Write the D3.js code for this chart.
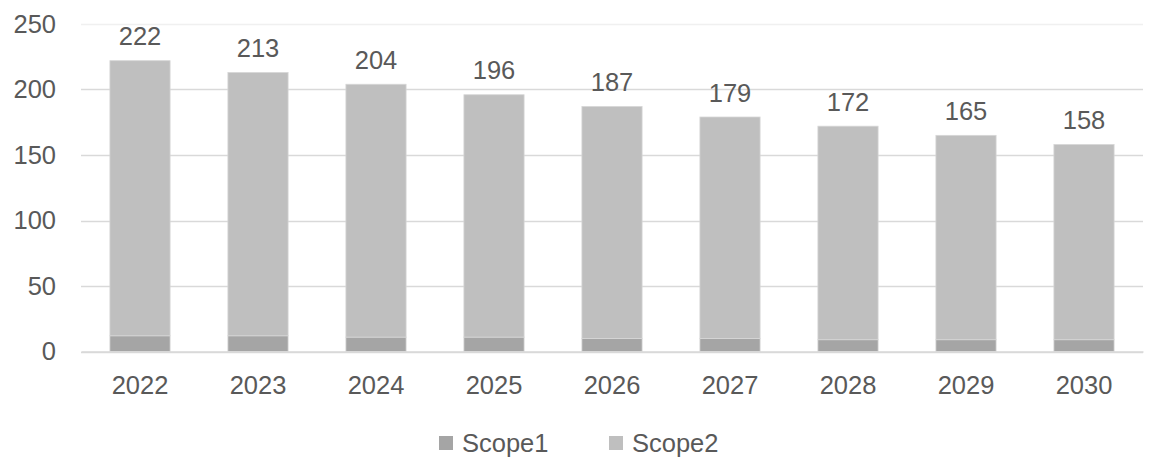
<!DOCTYPE html>
<html><head><meta charset="utf-8">
<script src="https://cdn.jsdelivr.net/npm/d3@7"></script>
<style>body{margin:0;background:#fff}svg{display:block;font-family:"Liberation Sans",Arial,sans-serif}</style>
</head><body><svg id="c" width="1153" height="459"></svg>
<script>
const years = ["2022","2023","2024","2025","2026","2027","2028","2029","2030"];
const scope1 = [12,12,11,11,10,10,9,9,9];
const totals = [222,213,204,196,187,179,172,165,158];
const scope2 = totals.map((t,i)=>t-scope1[i]);
const yTicks = [0,50,100,150,200,250];
const seriesNames = ["Scope1","Scope2"];
const colors = ["#a5a5a5","#bfbfbf"];

const svg = d3.select("#c");
const x = d3.scaleBand().domain(years).range([81,1143]).paddingInner(0.49).paddingOuter(0.245);
const y = d3.scaleLinear().domain([0,250]).range([351.5,24]);
const txt = "#595959";
const fs = 25.5;

// gridlines
svg.append("g").selectAll("line").data(yTicks).join("line")
  .attr("x1",81).attr("x2",1143)
  .attr("y1",d=>Math.round(y(d))+0.5).attr("y2",d=>Math.round(y(d))+0.5)
  .attr("stroke",d=>d===250?"#f0f0f0":"#d9d9d9").attr("stroke-width",1.3);

// y axis labels
const yAxis = d3.axisLeft(y).tickValues(yTicks).tickSize(0).tickPadding(0);
const ga = svg.append("g").attr("transform","translate(56,0)").call(yAxis);
ga.select(".domain").remove();
ga.selectAll("text").attr("fill",txt).attr("font-size",fs).attr("font-family","Liberation Sans, Arial, sans-serif");

// stacked bars
const stackData = years.map((yr,i)=>({year:yr,Scope1:scope1[i],Scope2:scope2[i]}));
const stack = d3.stack().keys(seriesNames)(stackData);
svg.append("g").selectAll("g").data(stack).join("g")
  .attr("fill",(d,i)=>colors[i])
  .selectAll("rect").data(d=>d).join("rect")
  .attr("x",d=>x(d.data.year)).attr("width",x.bandwidth())
  .attr("y",d=>y(d[1])).attr("height",d=>y(d[0])-y(d[1]))
  .attr("stroke","#d6d6d6").attr("stroke-width",0.8);

// x axis
const xAxis = d3.axisBottom(x).tickSize(0).tickPadding(0);
const gx = svg.append("g").attr("transform","translate(0,351.5)").call(xAxis);
gx.select(".domain").attr("stroke","#d9d9d9").attr("stroke-width",1.3);
gx.selectAll("text").attr("fill",txt).attr("font-size",fs).attr("dy",null).attr("y",42)
  .attr("font-family","Liberation Sans, Arial, sans-serif");

// data labels
svg.append("g").selectAll("text").data(years).join("text")
  .attr("x",d=>x(d)+x.bandwidth()/2).attr("y",(d,i)=>y(totals[i])-15.5)
  .attr("text-anchor","middle").attr("fill",txt).attr("font-size",fs)
  .text((d,i)=>totals[i]);

// legend
const leg = svg.append("g");
const lx = [439,609];
seriesNames.forEach((n,i)=>{
  leg.append("rect").attr("x",lx[i]).attr("y",436).attr("width",14).attr("height",14).attr("fill",colors[i]);
  leg.append("text").attr("x",lx[i]+23).attr("y",452).attr("fill",txt).attr("font-size",25.5).text(n);
});
</script></body></html>
